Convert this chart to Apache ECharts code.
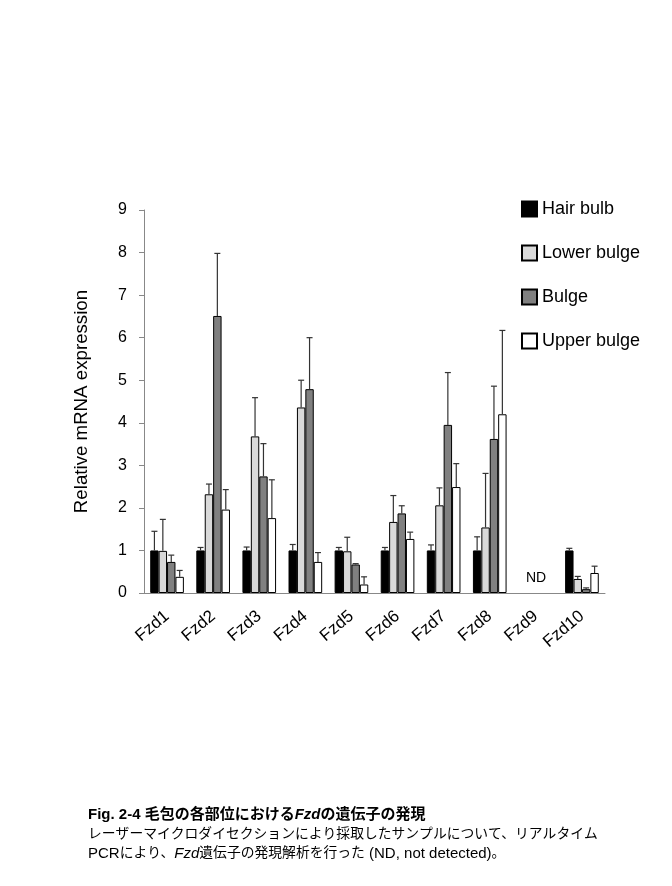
<!DOCTYPE html>
<html>
<head>
<meta charset="utf-8">
<script src="https://cdn.jsdelivr.net/npm/echarts@6/dist/echarts.min.js"></script>
<style>
  html, body { margin: 0; padding: 0; background: #fff; }
  #chart { width: 672px; height: 886px; }
</style>
</head>
<body>
<div id="chart"></div>
<script>
// 遺伝子名
var genes = ['Fzd1', 'Fzd2', 'Fzd3', 'Fzd4', 'Fzd5', 'Fzd6', 'Fzd7', 'Fzd8', 'Fzd9', 'Fzd10'];
var yTicks = [0, 1, 2, 3, 4, 5, 6, 7, 8, 9];

// 平均値 (Fzd9 = ND)
var hairBulb    = [1.00, 1.00, 1.00, 1.00, 1.00, 1.00, 1.00, 1.00, '-', 1.00];
var lowerBulge  = [0.99, 2.32, 3.68, 4.36, 0.98, 1.67, 2.06, 1.54, '-', 0.33];
var bulge       = [0.73, 6.51, 2.74, 4.79, 0.67, 1.87, 3.95, 3.62, '-', 0.09];
var upperBulge  = [0.38, 1.96, 1.76, 0.73, 0.20, 1.27, 2.49, 4.20, '-', 0.47];

// エラーバー上端 (mean + SD)
var hairBulbErr   = [1.45, 1.07, 1.08, 1.14, 1.07, 1.07, 1.13, 1.32, '-', 1.05];
var lowerBulgeErr = [1.73, 2.56, 4.59, 5.00, 1.31, 2.29, 2.47, 2.81, '-', 0.39];
var bulgeErr      = [0.89, 7.98, 3.51, 6.00, 0.69, 2.05, 5.18, 4.86, '-', 0.12];
var upperBulgeErr = [0.53, 2.43, 2.66, 0.95, 0.38, 1.43, 3.04, 6.17, '-', 0.63];

var seriesNames = ['Hair bulb', 'Lower bulge', 'Bulge', 'Upper bulge'];
var COLORS = ['#000000', '#d9d9d9', '#808080', '#ffffff'];
var means = [hairBulb, lowerBulge, bulge, upperBulge];
var errs = [hairBulbErr, lowerBulgeErr, bulgeErr, upperBulgeErr];

var CAT_GAP = 0.27;
var FONT = '"Liberation Sans", Arial, sans-serif';
var JP_FONT = FONT + ', "Noto Sans CJK JP"';

var myChart = echarts.init(document.getElementById('chart'));

function errRenderer(idx) {
    return function (params, api) {
        var cat = api.value(0);
        var top = api.value(1);
        var base = api.value(2);
        if (isNaN(top)) return;
        var band = api.size([1, 0])[0];
        var barW = band * (1 - CAT_GAP) / 4;
        var c = api.coord([cat, base]);
        var x = c[0] - 2 * barW + (idx + 0.5) * barW;
        var y0 = c[1];
        var y1 = api.coord([cat, top])[1];
        var cap = 3;
        var st = { stroke: '#333', lineWidth: 1.2 };
        return {
            type: 'group',
            children: [
                { type: 'line', shape: { x1: x, y1: y0, x2: x, y2: y1 }, style: st },
                { type: 'line', shape: { x1: x - cap, y1: y1, x2: x + cap, y2: y1 }, style: st }
            ]
        };
    };
}

var series = [];
for (var i = 0; i < 4; i++) {
    series.push({
        name: seriesNames[i],
        type: 'bar',
        data: means[i],
        barGap: '0%',
        barCategoryGap: (CAT_GAP * 100) + '%',
        itemStyle: { color: COLORS[i], borderColor: '#000', borderWidth: 1 },
        z: 2
    });
}
for (var j = 0; j < 4; j++) {
    var d = [];
    for (var k = 0; k < genes.length; k++) {
        d.push([k, errs[j][k], means[j][k]]);
    }
    series.push({
        type: 'custom',
        renderItem: errRenderer(j),
        data: d,
        encode: { x: 0, y: 1 },
        z: 3,
        silent: true
    });
}

var option = {
    animation: false,
    textStyle: { fontFamily: FONT },
    grid: { left: 144, right: 67, top: 210, bottom: 293, containLabel: false },
    legend: {
        data: seriesNames,
        orient: 'vertical',
        left: 516,
        top: 195,
        itemWidth: 15,
        itemHeight: 15,
        itemGap: 26,
        icon: 'rect',
        textStyle: { fontSize: 18, color: '#000', fontFamily: FONT }
    },
    xAxis: {
        type: 'category',
        data: genes,
        axisLine: { lineStyle: { color: '#888' } },
        axisTick: { length: 5, lineStyle: { color: '#888' } },
        axisLabel: { rotate: 40, fontSize: 17, color: '#000', fontFamily: FONT, margin: 21 }
    },
    yAxis: {
        type: 'value',
        min: yTicks[0],
        max: yTicks[yTicks.length - 1],
        interval: 1,
        name: 'Relative mRNA expression',
        nameLocation: 'middle',
        nameGap: 53,
        nameTextStyle: { fontSize: 18.7, color: '#000', fontFamily: FONT },
        axisLine: { show: true, lineStyle: { color: '#888' } },
        axisTick: { show: true, length: 5, lineStyle: { color: '#888' } },
        axisLabel: { fontSize: 16, color: '#000', fontFamily: FONT, margin: 17 },
        splitLine: { show: false }
    },
    graphic: [
        {
            type: 'text', left: 526, top: 571,
            style: { text: 'ND', fontSize: 14, fill: '#000', fontFamily: FONT }
        },
        {
            type: 'text', left: 88, top: 807,
            style: {
                text: '{b|Fig. 2-4 毛包の各部位における}{bi|Fzd}{b|の遺伝子の発現}',
                rich: {
                    b: { fontSize: 15, fontWeight: 'bold', fill: '#000', fontFamily: JP_FONT },
                    bi: { fontSize: 15, fontWeight: 'bold', fontStyle: 'italic', fill: '#000', fontFamily: FONT }
                }
            }
        },
        {
            type: 'text', left: 88, top: 827,
            style: {
                text: 'レーザーマイクロダイセクションにより採取したサンプルについて、リアルタイム',
                fontSize: 13.8, fill: '#000', fontFamily: JP_FONT
            }
        },
        {
            type: 'text', left: 88, top: 846,
            style: {
                text: '{l|PCR}{n|により、}{i|Fzd}{n|遺伝子の発現解析を行った}{l| (ND, not detected)}{n|。}',
                rich: {
                    n: { fontSize: 13.8, fill: '#000', fontFamily: JP_FONT },
                    l: { fontSize: 15, fill: '#000', fontFamily: FONT },
                    i: { fontSize: 15, fontStyle: 'italic', fill: '#000', fontFamily: FONT }
                }
            }
        }
    ],
    series: series
};
myChart.setOption(option);
</script>
</body>
</html>
